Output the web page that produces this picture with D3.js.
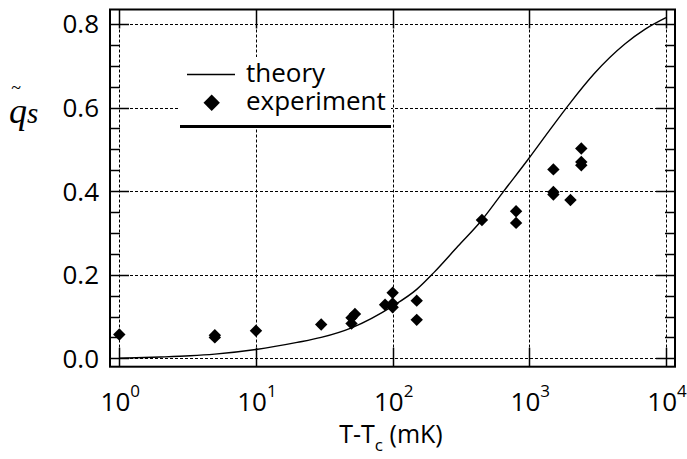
<!DOCTYPE html>
<html>
<head>
<meta charset="utf-8">
<title>q_s vs T-Tc</title>
<script src="https://cdn.jsdelivr.net/npm/d3@7"></script>
<style>
  body { margin: 0; background: #fff; }
  text { font-family: "Open Sans", sans-serif; fill: #000; }
</style>
</head>
<body>
<div id="chart"></div>
<script>
// theory curve (T-Tc in mK, q_s)
var theoryT = [1, 2, 3.3, 5, 10, 20, 30, 50, 100, 150, 200, 300, 450, 650, 1000, 1400, 2000, 3000, 5000, 7000, 10000];
var theoryQ = [0.000, 0.003, 0.006, 0.010, 0.021, 0.038, 0.050, 0.073, 0.125, 0.165, 0.205, 0.268, 0.331, 0.400, 0.480, 0.545, 0.612, 0.682, 0.752, 0.787, 0.815];

// experiment points
var expT = [1, 5, 5, 10, 30, 50, 50, 53, 88, 100, 100, 100, 150, 150, 450, 800, 800, 1500, 1500, 1500, 2000, 2400, 2400, 2400];
var expQ = [0.057, 0.055, 0.050, 0.066, 0.081, 0.083, 0.097, 0.106, 0.128, 0.157, 0.131, 0.122, 0.138, 0.092, 0.331, 0.352, 0.324, 0.452, 0.398, 0.392, 0.379, 0.502, 0.470, 0.462];

var xTicks = [1, 10, 100, 1000, 10000];
var xExp = ["0", "1", "2", "3", "4"];
var yTicks = [0, 0.2, 0.4, 0.6, 0.8];
var yMinor = d3.range(0.05, 0.8, 0.05);

var W = 687, H = 459;
var svg = d3.select("#chart").append("svg").attr("width", W).attr("height", H);

var x = d3.scaleLog().domain([1, 10000]).range([119.3, 666]);
var y = d3.scaleLinear().domain([0, 0.8]).range([358.3, 24]);

var fL = 110, fR = 675, fT = 9.5, fB = 366.7;
var major = 19, minor = 10;

// grid
var grid = svg.append("g").attr("stroke", "#000").attr("stroke-width", 1).attr("stroke-dasharray", "3,2");
grid.selectAll("line.h").data(yTicks).enter().append("line")
  .attr("x1", fL).attr("x2", fR)
  .attr("y1", function(d){ return Math.round(y(d)) + 0.5; })
  .attr("y2", function(d){ return Math.round(y(d)) + 0.5; });
grid.selectAll("line.v").data(xTicks).enter().append("line")
  .attr("y1", fT).attr("y2", fB)
  .attr("x1", function(d){ return Math.round(x(d)) + 0.5; })
  .attr("x2", function(d){ return Math.round(x(d)) + 0.5; });

// ticks
var tk = svg.append("g").attr("stroke", "#000").attr("stroke-width", 1.5);
yTicks.forEach(function(d){
  var yy = Math.round(y(d)) + 0.5;
  tk.append("line").attr("x1", fL).attr("x2", fL + major).attr("y1", yy).attr("y2", yy);
  tk.append("line").attr("x1", fR).attr("x2", fR - major).attr("y1", yy).attr("y2", yy);
});
yMinor.forEach(function(d){
  if (Math.abs(d / 0.2 - Math.round(d / 0.2)) < 1e-6) return;
  var yy = Math.round(y(d)) + 0.5;
  tk.append("line").attr("x1", fL).attr("x2", fL + minor).attr("y1", yy).attr("y2", yy);
  tk.append("line").attr("x1", fR).attr("x2", fR - minor).attr("y1", yy).attr("y2", yy);
});
xTicks.forEach(function(d){
  var xx = Math.round(x(d)) + 0.5;
  tk.append("line").attr("x1", xx).attr("x2", xx).attr("y1", fB).attr("y2", fB - major);
  tk.append("line").attr("x1", xx).attr("x2", xx).attr("y1", fT).attr("y2", fT + major);
});

// legend background (covers grid)
svg.append("rect").attr("x", 178).attr("y", 57).attr("width", 213).attr("height", 72).attr("fill", "#fff");

// theory curve
var line = d3.line()
  .x(function(d, i){ return x(theoryT[i]); })
  .y(function(d, i){ return y(theoryQ[i]); })
  .curve(d3.curveMonotoneX);
svg.append("path").datum(theoryT).attr("d", line)
  .attr("fill", "none").attr("stroke", "#000").attr("stroke-width", 1.4);

// experiment diamonds
var diamond = function(cx, cy, r){
  return "M" + cx + "," + (cy - r) + "L" + (cx + r) + "," + cy + "L" + cx + "," + (cy + r) + "L" + (cx - r) + "," + cy + "Z";
};
svg.append("g").selectAll("path").data(expT).enter().append("path")
  .attr("d", function(d, i){ return diamond(x(d), y(expQ[i]), 6.2); })
  .attr("fill", "#000");

// frame
svg.append("rect").attr("x", fL).attr("y", fT).attr("width", fR - fL).attr("height", fB - fT)
  .attr("fill", "none").attr("stroke", "#000").attr("stroke-width", 2);

// y tick labels
svg.selectAll("text.yl").data(yTicks).enter().append("text")
  .attr("x", 99).attr("y", function(d){ return y(d); })
  .attr("dy", "0.36em").attr("text-anchor", "end")
  .style("font-size", "26px")
  .text(function(d){ return d.toFixed(1); });

// x tick labels 10^n
xTicks.forEach(function(d, i){
  var t = svg.append("text").attr("x", x(d) + 1).attr("y", 411).attr("text-anchor", "middle").style("font-size", "26px");
  t.append("tspan").text("10");
  t.append("tspan").attr("dy", -14).style("font-size", "17px").text(xExp[i]);
});

// x title
var xt = svg.append("text").attr("x", 391).attr("y", 443).attr("text-anchor", "middle").style("font-size", "25px");
xt.append("tspan").text("T-T");
xt.append("tspan").attr("dy", 8).style("font-size", "17px").text("c");
xt.append("tspan").attr("dy", -8).text(" (mK)");

// y title
var yt = svg.append("text").attr("x", 9).attr("y", 123)
  .style("font-family", "'Liberation Serif', serif").style("font-style", "italic").style("font-size", "36px");
yt.append("tspan").text("q");
yt.append("tspan").style("font-size", "29px").text("s");
svg.append("text").attr("x", 16).attr("y", 94).attr("text-anchor", "middle")
  .style("font-family", "'Liberation Serif', serif").style("font-size", "18px").text("~");

// legend
svg.append("line").attr("x1", 187).attr("x2", 235).attr("y1", 74.5).attr("y2", 74.5)
  .attr("stroke", "#000").attr("stroke-width", 1.4);
svg.append("text").attr("x", 246).attr("y", 82).style("font-size", "26px").text("theory");
svg.append("path").attr("d", diamond(211.7, 102.7, 8.2)).attr("fill", "#000");
svg.append("text").attr("x", 246).attr("y", 110).style("font-size", "26px").text("experiment");
svg.append("line").attr("x1", 180).attr("x2", 391).attr("y1", 126.5).attr("y2", 126.5)
  .attr("stroke", "#000").attr("stroke-width", 3);
</script>
</body>
</html>
